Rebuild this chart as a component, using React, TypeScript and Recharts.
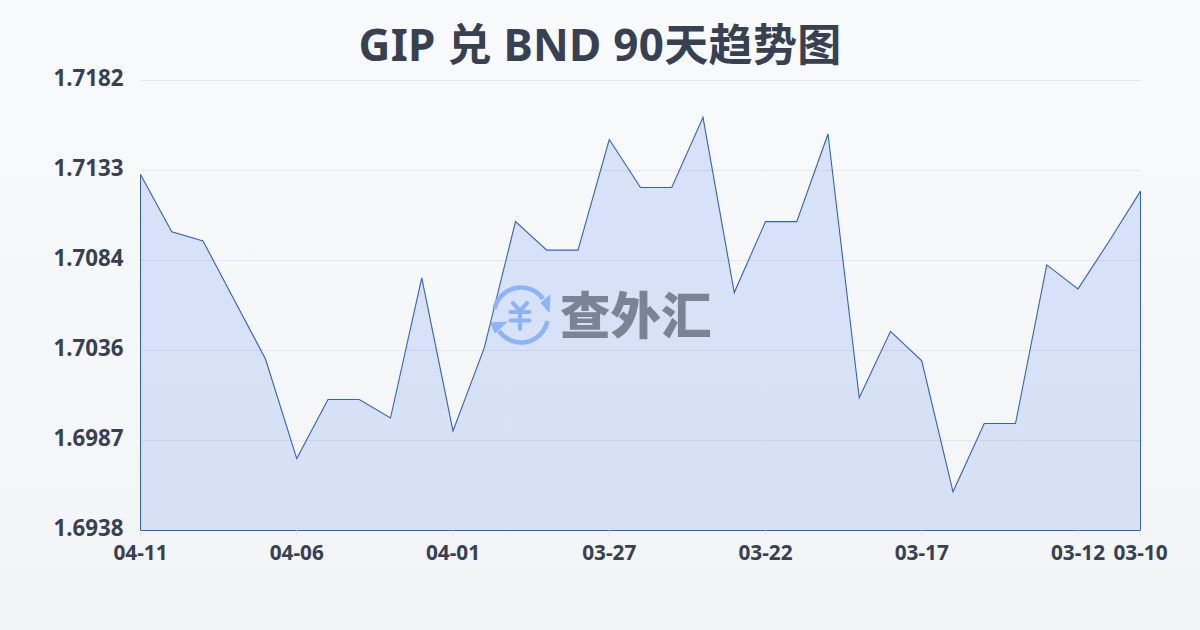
import React from "react";
import { AreaChart, Area, XAxis, YAxis, CartesianGrid, ReferenceLine } from "recharts";

const dates = ["04-11","04-10","04-09","04-08","04-07","04-06","04-05","04-04","04-03","04-02","04-01","03-31","03-30","03-29","03-28","03-27","03-26","03-25","03-24","03-23","03-22","03-21","03-20","03-19","03-18","03-17","03-16","03-15","03-14","03-13","03-12","03-11","03-10"];
const rates = [1.7131,1.7100,1.7095,1.7063,1.7031,1.6977,1.7009,1.7009,1.6999,1.7075,1.6992,1.7037,1.71055,1.7090,1.7090,1.7150,1.7124,1.7124,1.7162,1.7067,1.71055,1.71055,1.7153,1.7010,1.7046,1.7030,1.6959,1.6996,1.6996,1.7082,1.7069,1.7095,1.7122];
const xTicks = ["04-11","04-06","04-01","03-27","03-22","03-17","03-12","03-10"];
const yTicks = [1.6938,1.69868,1.70356,1.70844,1.71332,1.7182];
const yMin = 1.6938;
const yMax = 1.7182;
const titleText = "GIP 兑 BND 90天趋势图";
const watermark = "查外汇";

const table = dates.map((d, i) => ({ date: d, rate: rates[i] }));
const FONT = '"Noto Sans", "Noto Sans CJK SC", sans-serif';
const LINE = "#2f62c8";
const LOGO = "#8db4f8";

export default function App() {
  return (
    <div style={{ position: "fixed", left: 0, top: 0, width: 1200, height: 630, overflow: "hidden", background: "linear-gradient(180deg,#f8fafc 0%,#f3f4f6 100%)", fontFamily: FONT }}>
      <div style={{ position: "absolute", left: 0, right: 0, top: 12, textAlign: "center", fontSize: 44, lineHeight: "64px", fontWeight: 700, letterSpacing: 0.3, color: "#374151" }}>{titleText}</div>
      <AreaChart width={1200} height={630} data={table} margin={{ top: 80.5, right: 59.5, bottom: 0, left: 0 }} style={{ position: "absolute", left: 0, top: 0 }}>
        <defs>
          <linearGradient id="fillA" x1="0" y1="0" x2="0" y2="1">
            <stop offset="0%" stopColor="#2563eb" stopOpacity={0.15} />
            <stop offset="100%" stopColor="#2563eb" stopOpacity={0.14} />
          </linearGradient>
        </defs>
        <CartesianGrid horizontal vertical={false} stroke="#e5e7eb" strokeWidth={1} />
        <XAxis dataKey="date" ticks={xTicks} interval={0} height={99.5} tickSize={6} tickMargin={9} axisLine={false} tickLine={{ stroke: "#e5e7eb" }} tick={{ fontSize: 20.8, fontWeight: 700, fill: "#374151", fontFamily: FONT }} scale="point" padding={{ left: 0, right: 0 }} />
        <YAxis width={140.5} domain={[yMin, yMax]} ticks={yTicks} interval={0} tickSize={0} tickMargin={17} axisLine={false} tickFormatter={(v: number) => v.toFixed(4)} tick={{ fontSize: 22.3, fontWeight: 700, fill: "#374151", fontFamily: FONT, dy: -2 }} />
        <Area type="linear" dataKey="rate" stroke={LINE} strokeWidth={1.1} fill="url(#fillA)" fillOpacity={1} baseValue={yMin} isAnimationActive={false} dot={false} activeDot={false} />
        <ReferenceLine segment={[{ x: dates[0], y: yMin }, { x: dates[0], y: rates[0] }]} stroke={LINE} strokeWidth={1} />
        <ReferenceLine segment={[{ x: dates[dates.length - 1], y: yMin }, { x: dates[dates.length - 1], y: rates[rates.length - 1] }]} stroke={LINE} strokeWidth={1} />
        <ReferenceLine y={yMin} stroke={LINE} strokeWidth={1} />
      </AreaChart>
      <svg width={64} height={64} viewBox="489 283 64 64" style={{ position: "absolute", left: 489, top: 283 }}>
        <path d="M494.5 309 A27 27 0 0 1 543 299" fill="none" stroke={LOGO} strokeWidth={4.6} />
        <path d="M541 303 L550 295 L549 312 Z" fill={LOGO} stroke={LOGO} strokeWidth={1} strokeLinejoin="round" />
        <path d="M547.5 321 A27 27 0 0 1 499 331" fill="none" stroke={LOGO} strokeWidth={4.6} />
        <path d="M491 323 L507 322 L495 333 Z" fill={LOGO} stroke={LOGO} strokeWidth={1} strokeLinejoin="round" />
        <path d="M513 303 L520 311 L527 303 M510.5 312 H529.5 M510.5 320.5 H529.5 M520 311 V329" fill="none" stroke={LOGO} strokeWidth={4.2} strokeLinecap="round" strokeLinejoin="round" />
      </svg>
      <div style={{ position: "absolute", left: 560, top: 274, fontSize: 50.5, lineHeight: "76px", fontWeight: 900, color: "#7b8494", fontFamily: '"Noto Sans CJK SC", sans-serif' }}>{watermark}</div>
    </div>
  );
}
